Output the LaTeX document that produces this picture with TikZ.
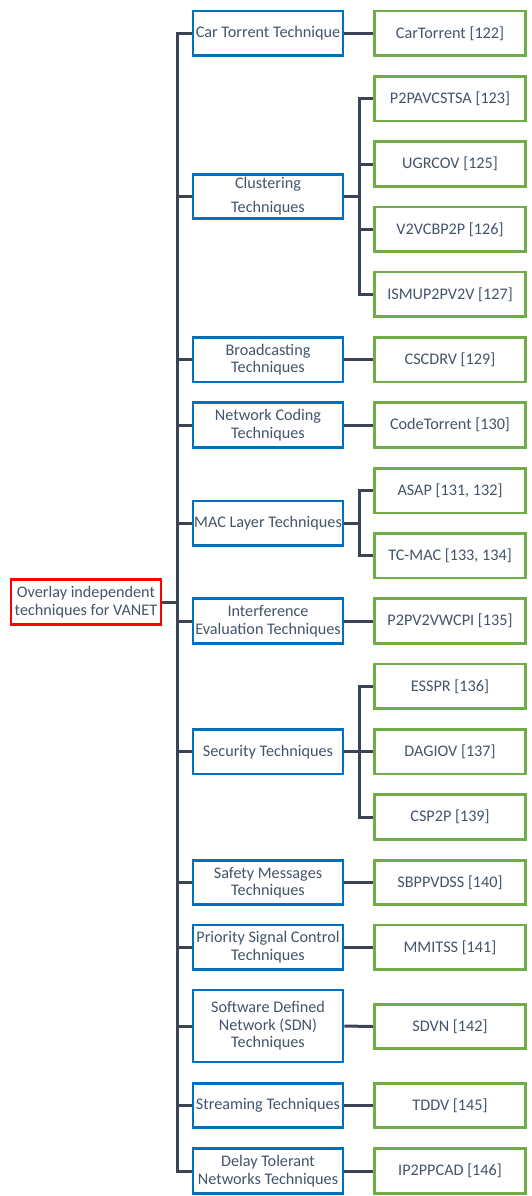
\documentclass[tikz,border=0pt]{standalone}
\usepackage{fontspec}
\setmainfont{Carlito}
\definecolor{txt}{RGB}{68,84,106}
\definecolor{lnk}{RGB}{59,68,84}
\definecolor{bluebox}{RGB}{0,112,192}
\definecolor{greenbox}{RGB}{112,173,71}
\definecolor{redbox}{RGB}{255,0,0}
\begin{document}
\begin{tikzpicture}[x=1pt,y=-1pt,
  box/.style={draw,line width=2.6pt,fill=white,text=txt,align=center,inner sep=0pt,
    minimum width=150pt,minimum height=44.5pt,font=\fontsize{16.2}{17.5}\selectfont},
  cat/.style={box,draw=bluebox},
  leaf/.style={box,draw=greenbox,minimum width=151.5pt},
  rootbox/.style={box,draw=redbox},
  conn/.style={draw=lnk,line width=3pt}]
\useasboundingbox (0,0) rectangle (532,1196);
\coordinate (tx) at (177,0);
\coordinate (sx) at (359,0);
% root
\node[rootbox,font=\fontsize{16.2}{18.5}\selectfont] (root) at (86,602) {Overlay independent\\techniques for VANET};
% categories
\node[cat] (b1) at (268,33.4) {Car Torrent Technique};
\node[cat,font=\fontsize{16.2}{24}\selectfont] (b2) at (268,196.5) {Clustering\\Techniques};
\node[cat] (b3) at (268,359.7) {Broadcasting\\Techniques};
\node[cat] (b4) at (268,425) {Network Coding\\Techniques};
\node[cat] (b5) at (268,523.3) {MAC Layer Techniques};
\node[cat] (b6) at (268,621) {Interference\\Evaluation Techniques};
\node[cat] (b7) at (268,751.7) {Security Techniques};
\node[cat] (b8) at (268,882.5) {Safety Messages\\Techniques};
\node[cat] (b9) at (268,947.3) {Priority Signal Control\\Techniques};
\node[cat,minimum height=72pt] (b10) at (268,1026) {Software Defined\\Network (SDN)\\Techniques};
\node[cat] (b11) at (268,1105.5) {Streaming Techniques};
\node[cat] (b12) at (268,1171) {Delay Tolerant\\Networks Techniques};
% leaves
\node[leaf] (g1) at (450,33.4) {CarTorrent [122]};
\node[leaf] (g2) at (450,98.7) {P2PAVCSTSA [123]};
\node[leaf] (g3) at (450,164) {UGRCOV [125]};
\node[leaf] (g4) at (450,229.3) {V2VCBP2P [126]};
\node[leaf] (g5) at (450,294.4) {ISMUP2PV2V [127]};
\node[leaf] (g6) at (450,359.7) {CSCDRV [129]};
\node[leaf] (g7) at (450,425) {CodeTorrent [130]};
\node[leaf] (g8) at (450,490.8) {ASAP [131, 132]};
\node[leaf] (g9) at (450,555.8) {TC-MAC [133, 134]};
\node[leaf] (g10) at (450,621) {P2PV2VWCPI [135]};
\node[leaf] (g11) at (450,686.3) {ESSPR [136]};
\node[leaf] (g12) at (450,751.7) {DAGIOV [137]};
\node[leaf] (g13) at (450,817) {CSP2P [139]};
\node[leaf] (g14) at (450,882.5) {SBPPVDSS [140]};
\node[leaf] (g15) at (450,947.3) {MMITSS [141]};
\node[leaf] (g16) at (450,1026.5) {SDVN [142]};
\node[leaf] (g17) at (450,1105.5) {TDDV [145]};
\node[leaf] (g18) at (450,1171) {IP2PPCAD [146]};
% connectors
\draw[conn] (root.east) -- (tx |- root.east);
\foreach \b in {b1,b2,b3,b4,b5,b6,b7,b8,b9,b10,b11,b12}
  \draw[conn] (\b.west) -| (tx |- root.east);
\foreach \b/\g in {b1/g1,b3/g6,b4/g7,b6/g10,b8/g14,b9/g15,b10/g16,b11/g17,b12/g18}
  \draw[conn] (\b.east) -- (\g.west);
\draw[conn] (b2.east) -- (sx |- b2.east);
\foreach \g in {g2,g3,g4,g5} \draw[conn] (\g.west) -| (sx |- b2.east);
\draw[conn] (b5.east) -- (sx |- b5.east);
\foreach \g in {g8,g9} \draw[conn] (\g.west) -| (sx |- b5.east);
\draw[conn] (b7.east) -- (sx |- b7.east);
\foreach \g in {g11,g12,g13} \draw[conn] (\g.west) -| (sx |- b7.east);
\end{tikzpicture}
\end{document}
